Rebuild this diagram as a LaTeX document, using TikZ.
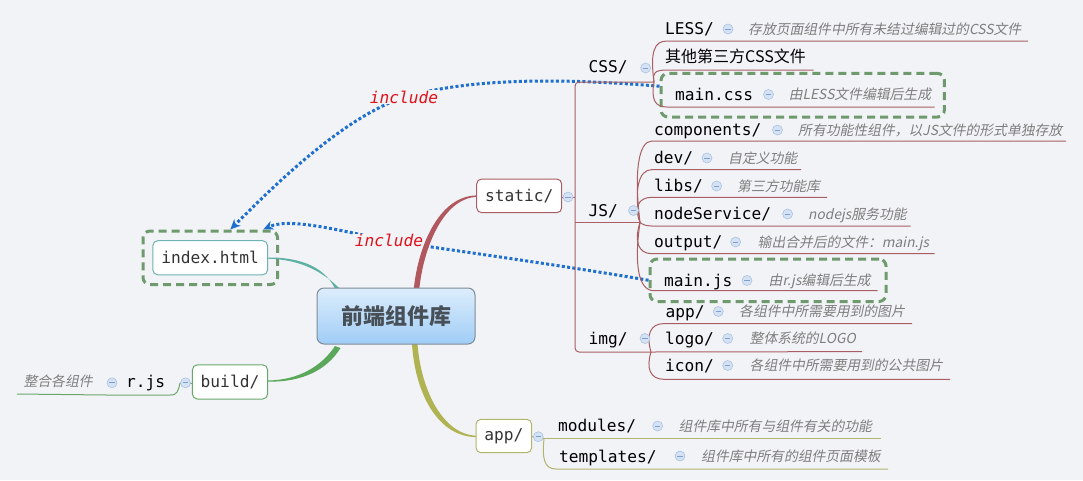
\documentclass[tikz,border=0pt]{standalone}
\usepackage{fontspec}
\newfontfamily\cjk{Noto Sans CJK SC}
\newfontfamily\annfont[FakeSlant=0.2]{Noto Sans CJK SC}
\newfontfamily\monofont{DejaVu Sans Mono}
\usetikzlibrary{arrows.meta}
\definecolor{bg}{HTML}{F2F3F7}
\definecolor{redl}{HTML}{A85E62}
\definecolor{redthick}{HTML}{B0585E}
\definecolor{olivel}{HTML}{B3B46E}
\definecolor{olivethick}{HTML}{B0B352}
\definecolor{tealthick}{HTML}{5DB0A3}
\definecolor{teall}{HTML}{6DB3B3}
\definecolor{greenl}{HTML}{6AA86A}
\definecolor{greenthick}{HTML}{5BA85B}
\definecolor{dgreen}{HTML}{6E9A6E}
\definecolor{anngray}{HTML}{7E7E7E}
\definecolor{collfill}{HTML}{D4E2F4}
\definecolor{colldraw}{HTML}{AAC2E2}
\definecolor{collminus}{HTML}{7F9FCC}
\definecolor{inclblue}{HTML}{1F6FCF}
\definecolor{inclred}{HTML}{E0101A}
\definecolor{textdark}{HTML}{333333}
\definecolor{roottext}{HTML}{474F57}
\definecolor{rootdraw}{HTML}{7F8C99}
\definecolor{roottop}{HTML}{DCEDFC}
\definecolor{rootbot}{HTML}{A0CDF6}
\begin{document}
\begin{tikzpicture}[x=1pt,y=-1pt,
  mono/.style={font=\monofont\fontsize{16.2}{18}\selectfont, inner sep=0pt, anchor=base west, text=black},
  ann/.style={font=\annfont\fontsize{13.8}{16}\selectfont, inner sep=0pt, anchor=base west, text=anngray},
  coll/.style={circle, minimum size=10pt, inner sep=0pt, fill=collfill, draw=colldraw, line width=0.6pt,
    path picture={\draw[collminus, line width=0.9pt] ([xshift=-2.6pt]path picture bounding box.center) -- ([xshift=2.6pt]path picture bounding box.center);}},
  dbox/.style={draw=dgreen, line width=3pt, dash pattern=on 8pt off 5pt, rounded corners=7pt, inner sep=0pt},
  tbox/.style={draw=#1, fill=white, rounded corners=5pt, line width=1pt, inner sep=0pt, font=\monofont\fontsize{16.2}{18}\selectfont, text=textdark},
  thin/.style={draw=#1, line width=1pt},
  incl/.style={draw=inclblue, line width=3pt, dash pattern=on 3pt off 2.3pt},
  inclarrow/.style={incl, -{Stealth[length=10pt, width=9pt, inset=3pt]}},
  inlab/.style={font=\monofont\itshape\fontsize{16.2}{18}\selectfont, text=inclred, fill=bg, inner sep=0.5pt}
]
\fill[bg] (0,0) rectangle (1083,480);
\useasboundingbox (0,0) rectangle (1083,480);

% ---- include labels' positions
\coordinate (lab1pos) at (404,97.3);
\coordinate (lab2pos) at (389,240.7);

% ---- junction coordinates
\coordinate (J1) at (654,82);
\coordinate (J2) at (640,222.5);
\coordinate (J3) at (651,352);
\coordinate (J4) at (544,438.5);
\coordinate (J5) at (180,383);

% ---- dashed highlight boxes (drawn early, lines may overlap)
\node[dbox, minimum width=283.4pt, minimum height=43.6pt] (mcssbox) at (802.7,95.2) {};
\node[dbox, minimum width=236pt, minimum height=42.5pt] (mjsbox) at (768,280.25) {};
\node[dbox, minimum width=134.6pt, minimum height=53.5pt] (idxbox) at (210.3,257.75) {};

% ---- include arrows (dotted)
\draw[incl] ([yshift=9pt]mcssbox.west) .. controls (560,78) and (470,78) .. (lab1pos);
\draw[inclarrow] (lab1pos) .. controls (340,118) and (265,195) .. ([xshift=20pt]idxbox.north);
\draw[incl] (mjsbox.west) .. controls (560,265) and (450,250) .. (lab2pos);
\draw[inclarrow] (lab2pos) .. controls (330,228) and (288,218) .. ([xshift=53pt]idxbox.north);
\node[inlab] (lab1) at (lab1pos) {include};
\node[inlab] (lab2) at (lab2pos) {include};

% ---- main tapered branches
\fill[redthick] (413.5,292) .. controls (417,249) and (438,195.6) .. (477,195.4) -- (477,196.8) .. controls (442,198.2) and (422.5,251) .. (419,292) -- cycle;
\fill[olivethick] (412,344) .. controls (415,392) and (437,437.2) .. (477,437.1) -- (477,435.7) .. controls (443,435.2) and (421,390) .. (417.5,344) -- cycle;
\fill[tealthick] (337,293) .. controls (327,268) and (303,257.4) .. (268,257.5) -- (268,258.7) .. controls (301,259.4) and (324,272) .. (342,291) -- cycle;
\fill[greenthick] (335,346) .. controls (322,366) and (298,380.4) .. (268,380.4) -- (268,381.6) .. controls (302,382.3) and (327,370) .. (340.5,348) -- cycle;

% ---- static trunk
\draw[thin=redl, rounded corners=4pt] (J1) -- (575,82) -- (575,352) -- (J3);
\draw[thin=redl] (575,222.5) -- (J2);
\draw[thin=redl] (561,197) -- (575,197);

% CSS children
\draw[thin=redl] (J1) .. controls (650,52) and (654,41) .. (667,41) -- (1028,41);
\draw[thin=redl] (J1) .. controls (652,73) and (655,70) .. (667,70) -- (813.5,70);
\draw[thin=redl] (J1) .. controls (651,100) and (655,107) .. (667,107) -- (934.7,107);

% JS children
\draw[thin=redl] (J2) .. controls (634,173.4) and (638,141) .. (652,141) -- (1066,141);
\draw[thin=redl] (J2) .. controls (634,190.6) and (638,169.6) .. (652,169.6) -- (801,169.6);
\draw[thin=redl] (J2) .. controls (634,207.4) and (638,197.3) .. (652,197.3) -- (827,197.3);
\draw[thin=redl] (J2) .. controls (642,224) and (645,226) .. (652,226) -- (910.5,226);
\draw[thin=redl] (J2) .. controls (634,241) and (638,253.7) .. (652,253.7) -- (934.7,253.7);
\draw[thin=redl] (J2) .. controls (634,263.4) and (638,290.7) .. (654,290.7) -- (877.6,290.7);

% img children
\draw[thin=redl] (J3) .. controls (646,335) and (650,323.6) .. (664,323.6) -- (912,323.6);
\draw[thin=redl] (J3) -- (862,351.6);
\draw[thin=redl] (J3) .. controls (646,368) and (650,379.3) .. (664,379.3) -- (950,379.3);

% app children
\draw[thin=olivel] (531,436.5) -- (J4);
\draw[thin=olivel] (J4) -- (881,438.5);
\draw[thin=olivel] (J4) .. controls (542,458) and (544,469) .. (556,469) -- (888,469);

% build children
\draw[thin=greenl] (J5) -- (193,383);
\draw[thin=greenl] (J5) .. controls (178,392) and (177,395) .. (170,395) -- (107,395) -- (17,394);

% ---- root
\node[draw=rootdraw, line width=1pt, rounded corners=7pt, top color=roottop, bottom color=rootbot,
  minimum width=158pt, minimum height=56pt, inner sep=0pt,
  font=\cjk\bfseries\fontsize{22}{24}\selectfont, text=roottext] (root) at (396,316) {前端组件库};

% ---- first-level boxes
\node[tbox=teall, minimum width=114.8pt, minimum height=34.1pt] (idx) at (210.2,257.75) {index.html};
\node[tbox=redl, minimum width=85pt, minimum height=33.7pt] (static) at (519.2,195.85) {static/};
\node[tbox=olivel, minimum width=55.7pt, minimum height=33.4pt] (app) at (503.85,436) {app/};
\node[tbox=greenl, minimum width=75.2pt, minimum height=34.2pt] (build) at (230,381.9) {build/};
\node[coll] (cstatic) at (568,197) {};
\node[coll] (capp) at (538.3,436.7) {};
\node[coll] (cbuild) at (185.5,382.8) {};

% ---- CSS
\node[mono] (css) at (588.5,72.5) {CSS/};
\node[coll] (ccss) at (645.6,68) {};
\node[mono] (less) at (665,34.7) {LESS/};
\node[coll] (cless) at (728,29) {};
\node[ann] (aless) at (748,34.4) {存放页面组件中所有未结过编辑过的CSS文件};
\node[font=\cjk\fontsize{16}{18}\selectfont, inner sep=0pt, anchor=base west] (other) at (665,62.4) {其他第三方CSS文件};
\node[mono] (mcss) at (675,100.2) {main.css};
\node[coll] (cmcss) at (768.5,94.5) {};
\node[ann] (amcss) at (788.6,99.5) {由LESS文件编辑后生成};

% ---- JS
\node[mono] (js) at (588.5,216.4) {JS/};
\node[coll] (cjs) at (633.5,210.5) {};
\node[mono] (comp) at (654,135.7) {components/};
\node[coll] (ccomp) at (777.5,130) {};
\node[ann] (acomp) at (798,135) {所有功能性组件，以JS文件的形式单独存放};
\node[mono] (dev) at (654,163.8) {dev/};
\node[coll] (cdev) at (707,158) {};
\node[ann] (adev) at (728,163) {自定义功能};
\node[mono] (libs) at (654,191.5) {libs/};
\node[coll] (clibs) at (716.6,186) {};
\node[ann] (alibs) at (737,191) {第三方功能库};
\node[mono] (ns) at (654,219.9) {nodeService/};
\node[coll] (cns) at (787.6,214) {};
\node[ann] (ans) at (808,219) {nodejs服务功能};
\node[mono] (out) at (654,247.6) {output/};
\node[coll] (cout) at (735.6,242) {};
\node[ann] (aout) at (757.5,247) {输出合并后的文件：main.js};
\node[mono] (mjs) at (664,286.4) {main.js};
\node[coll] (cmjs) at (747,280.5) {};
\node[ann] (amjs) at (768.5,285.5) {由r.js编辑后生成};

% ---- img
\node[mono] (img) at (588.5,344.5) {img/};
\node[coll] (cimg) at (645,338.5) {};
\node[mono] (iapp) at (665.3,317.5) {app/};
\node[coll] (ciapp) at (718.3,311.5) {};
\node[ann] (aiapp) at (739,316.5) {各组件中所需要用到的图片};
\node[mono] (logo) at (665,344.5) {logo/};
\node[coll] (clogo) at (727.7,338.5) {};
\node[ann] (alogo) at (749.5,343.5) {整体系统的LOGO};
\node[mono] (icon) at (665,371.5) {icon/};
\node[coll] (cicon) at (727.7,365.5) {};
\node[ann] (aicon) at (749.5,370.5) {各组件中所需要用到的公共图片};

% ---- app
\node[mono] (mod) at (558,431.7) {modules/};
\node[coll] (cmod) at (657.7,426) {};
\node[ann] (amod) at (678.5,431) {组件库中所有与组件有关的功能};
\node[mono] (tpl) at (559,462) {templates/};
\node[coll] (ctpl) at (680,456) {};
\node[ann] (atpl) at (701,461) {组件库中所有的组件页面模板};

% ---- build
\node[mono] (rjs) at (126,387) {r.js};
\node[coll] (crjs) at (112,382.8) {};
\node[ann] (arjs) at (23.4,386) {整合各组件};
\end{tikzpicture}
\end{document}
